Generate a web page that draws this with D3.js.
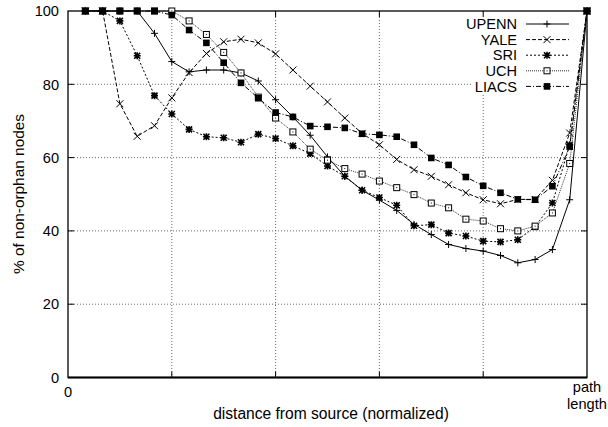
<!DOCTYPE html>
<html>
<head>
<meta charset="utf-8">
<script src="https://cdn.jsdelivr.net/npm/d3@7"></script>
<style>
  body { margin: 0; background: #fff; }
  svg { display: block; font-family: "Liberation Sans", Arial, sans-serif; }
</style>
</head>
<body>
<svg id="chart" width="608" height="427"></svg>
<script>
// x positions: i/30 of the normalized path, i = 1..30
let steps = d3.range(1, 31).map(i => i / 30);

let upenn = [100, 100, 100, 100, 93.9, 86.2, 83.4, 83.9, 83.9, 83.1, 80.9, 75.8, 71.1, 66.1, 60.2,
  54.9, 51.1, 48.4, 45.6, 41.8, 39.0, 36.3, 35.2, 34.5, 33.3, 31.3, 32.2, 34.9, 48.5, 100];
let yale = [100, 100, 74.7, 65.8, 68.7, 76.3, 83.2, 88.4, 91.6, 92.3, 91.3, 88.3, 83.9, 79.5, 75.2,
  70.8, 66.6, 63.5, 59.5, 56.7, 54.9, 52.6, 50.4, 48.5, 47.4, 48.6, 48.6, 53.8, 66.7, 100];
let sri = [100, 100, 97.3, 87.8, 76.9, 71.9, 67.7, 65.7, 65.4, 64.2, 66.4, 65.2, 63.2, 61.1, 57.7,
  54.9, 51.1, 49.1, 47.0, 41.4, 41.7, 39.4, 38.6, 37.2, 37.0, 37.6, 41.1, 47.6, 63.5, 100];
let uch = [100, 100, 100, 100, 100, 100, 97.3, 93.6, 88.7, 83.1, 76.5, 70.8, 67.0, 62.3, 59.3,
  57.0, 55.5, 53.6, 51.8, 49.9, 47.6, 46.3, 43.2, 42.7, 40.6, 40.0, 41.3, 44.9, 58.4, 100];
let liacs = [100, 100, 100, 100, 100, 98.9, 94.8, 91.3, 85.9, 80.4, 76.2, 72.3, 71.1, 68.6, 68.4,
  68.1, 66.5, 66.2, 65.7, 63.5, 59.9, 58.0, 54.7, 52.3, 50.4, 48.6, 48.5, 52.2, 63.0, 100];

let seriesNames = ['UPENN', 'YALE', 'SRI', 'UCH', 'LIACS'];
let yTicks = [0, 20, 40, 60, 80, 100];
let xGrid = [0.2, 0.4, 0.6, 0.8];

let series = [
  { name: 'UPENN', values: upenn, dash: null, marker: 'plus' },
  { name: 'YALE', values: yale, dash: '4,2', marker: 'cross' },
  { name: 'SRI', values: sri, dash: '2,2', marker: 'star' },
  { name: 'UCH', values: uch, dash: '1,1', marker: 'box' },
  { name: 'LIACS', values: liacs, dash: '5,2,1,2', marker: 'fbox' }
];

let plotLeft = 68, plotRight = 587, plotTop = 11, plotBottom = 377.5;
let fontSize = 14.6;

let x = d3.scaleLinear().domain([0, 1]).range([plotLeft, plotRight]);
let y = d3.scaleLinear().domain([0, 100]).range([plotBottom, plotTop]);

let svg = d3.select('#chart');

// grid
let grid = svg.append('g')
  .attr('stroke', '#444')
  .attr('stroke-width', 0.8)
  .attr('stroke-dasharray', '1,2');

grid.selectAll('line.gx')
  .data(xGrid)
  .enter().append('line')
  .attr('x1', d => x(d)).attr('x2', d => x(d))
  .attr('y1', plotTop).attr('y2', plotBottom);

grid.selectAll('line.gy')
  .data(yTicks.slice(1, -1))
  .enter().append('line')
  .attr('x1', plotLeft).attr('x2', plotRight)
  .attr('y1', d => y(d)).attr('y2', d => y(d));

// legend backing covers the grid
svg.append('rect')
  .attr('x', 472).attr('y', plotTop + 1)
  .attr('width', plotRight - 473).attr('height', 83)
  .attr('fill', '#fff');

// ticks
let ticks = svg.append('g').attr('stroke', '#000').attr('stroke-width', 1);

ticks.selectAll('line.ly')
  .data(yTicks.slice(1, -1))
  .enter().append('line')
  .attr('x1', plotLeft).attr('x2', plotLeft + 6)
  .attr('y1', d => y(d)).attr('y2', d => y(d));

ticks.selectAll('line.ry')
  .data(yTicks.slice(1, -1))
  .enter().append('line')
  .attr('x1', plotRight - 6).attr('x2', plotRight)
  .attr('y1', d => y(d)).attr('y2', d => y(d));

ticks.selectAll('line.bx')
  .data(xGrid)
  .enter().append('line')
  .attr('x1', d => x(d)).attr('x2', d => x(d))
  .attr('y1', plotBottom).attr('y2', plotBottom - 6);

ticks.selectAll('line.tx')
  .data(xGrid)
  .enter().append('line')
  .attr('x1', d => x(d)).attr('x2', d => x(d))
  .attr('y1', plotTop).attr('y2', plotTop + 6);

// frame
svg.append('rect')
  .attr('x', plotLeft).attr('y', plotTop)
  .attr('width', plotRight - plotLeft).attr('height', plotBottom - plotTop)
  .attr('fill', 'none')
  .attr('stroke', '#000')
  .attr('stroke-width', 1.3);

svg.append('line')
  .attr('x1', plotLeft).attr('x2', plotRight)
  .attr('y1', plotBottom).attr('y2', plotBottom)
  .attr('stroke', '#000')
  .attr('stroke-width', 2);

// tick labels
svg.append('g')
  .selectAll('text')
  .data(yTicks)
  .enter().append('text')
  .attr('x', plotLeft - 9)
  .attr('y', d => y(d))
  .attr('dy', '0.36em')
  .attr('text-anchor', 'end')
  .attr('font-size', fontSize)
  .text(d => d);

svg.append('text')
  .attr('x', x(0)).attr('y', 397)
  .attr('text-anchor', 'middle')
  .attr('font-size', fontSize)
  .text('0');

svg.append('text')
  .attr('x', x(1)).attr('y', 392)
  .attr('text-anchor', 'middle')
  .attr('font-size', fontSize)
  .text('path');

svg.append('text')
  .attr('x', x(1)).attr('y', 409)
  .attr('text-anchor', 'middle')
  .attr('font-size', fontSize)
  .text('length');

svg.append('text')
  .attr('x', 331).attr('y', 419)
  .attr('text-anchor', 'middle')
  .attr('font-size', 15.6)
  .text('distance from source (normalized)');

svg.append('text')
  .attr('transform', 'translate(24,194) rotate(-90)')
  .attr('text-anchor', 'middle')
  .attr('font-size', 15.4)
  .text('% of non-orphan nodes');

function drawMarker(g, type) {
  if (type === 'plus') {
    g.append('path').attr('d', 'M-3.5,0H3.5M0,-3.5V3.5')
      .attr('stroke', '#000').attr('stroke-width', 1);
  } else if (type === 'cross') {
    g.append('path').attr('d', 'M-3.5,-3.5L3.5,3.5M-3.5,3.5L3.5,-3.5')
      .attr('stroke', '#000').attr('stroke-width', 1);
  } else if (type === 'star') {
    g.append('path').attr('d', 'M-3,-3L3,3M-3,3L3,-3M-3.5,0H3.5M0,-3.5V3.5')
      .attr('stroke', '#000').attr('stroke-width', 1.6);
  } else if (type === 'box') {
    g.append('rect').attr('x', -3).attr('y', -3).attr('width', 6).attr('height', 6)
      .attr('fill', '#fff').attr('stroke', '#000').attr('stroke-width', 1);
    g.append('rect').attr('x', -0.5).attr('y', -0.5).attr('width', 1).attr('height', 1)
      .attr('fill', '#000');
  } else {
    g.append('rect').attr('x', -3.3).attr('y', -3.3).attr('width', 6.6).attr('height', 6.6)
      .attr('fill', '#000');
  }
}

let line = d3.line()
  .x((d, i) => x(steps[i]))
  .y(d => y(d));

series.forEach(s => {
  let g = svg.append('g').attr('class', s.name);

  g.append('path')
    .datum(s.values)
    .attr('d', line)
    .attr('fill', 'none')
    .attr('stroke', s.name === 'UCH' ? '#333' : '#000')
    .attr('stroke-width', 1)
    .attr('stroke-dasharray', s.dash);

  g.selectAll('g.pt')
    .data(s.values)
    .enter().append('g')
    .attr('class', 'pt')
    .attr('transform', (d, i) => `translate(${x(steps[i])},${y(d)})`)
    .each(function () { drawMarker(d3.select(this), s.marker); });
});

// legend
let legend = svg.append('g');

seriesNames.forEach((name, k) => {
  let s = series[k];
  let ly = 24 + k * 15.6;

  legend.append('text')
    .attr('x', 517).attr('y', ly)
    .attr('dy', '0.36em')
    .attr('text-anchor', 'end')
    .attr('font-size', fontSize)
    .text(name);

  legend.append('line')
    .attr('x1', 526).attr('x2', 569)
    .attr('y1', ly).attr('y2', ly)
    .attr('stroke', name === 'UCH' ? '#333' : '#000')
    .attr('stroke-width', 1)
    .attr('stroke-dasharray', s.dash);

  let m = legend.append('g').attr('transform', `translate(547,${ly})`);
  drawMarker(m, s.marker);
});
</script>
</body>
</html>
